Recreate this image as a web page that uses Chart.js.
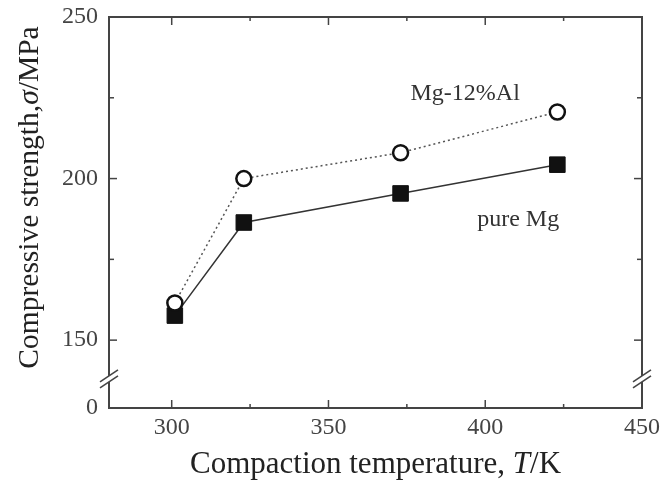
<!DOCTYPE html>
<html>
<head>
<meta charset="utf-8">
<script src="https://cdn.jsdelivr.net/npm/chart.js@4.4.0/dist/chart.umd.min.js"></script>
<style>html,body{margin:0;padding:0;background:#fff}</style>
</head>
<body>
<canvas id="grafico" width="660" height="488"></canvas>
<script>
// valores
var temps = [301, 323, 373, 423];
var mgAl = [161.5, 200, 208, 220.6];
var pureMg = [157.6, 186.4, 195.4, 204.3];
var xTicks = [300, 350, 400, 450];
var xMinor = [325, 375, 425];
var yTicks = [129, 150, 200, 250];
var yTickLabels = ['0', '150', '200', '250'];
var yMinor = [175, 225];
var yBreak = 138;

var fam = "'Liberation Serif', 'Times New Roman', serif";

function pts(ys) {
    return temps.map(function (t, i) { return { x: t, y: ys[i] }; });
}

function rich(ctx, parts, size) {
    var total = 0;
    parts.forEach(function (p) {
        ctx.font = (p[1] ? 'italic ' : '') + size + 'px ' + fam;
        p.w = ctx.measureText(p[0]).width;
        total += p.w;
    });
    var x = -total / 2;
    ctx.textAlign = 'left';
    ctx.textBaseline = 'alphabetic';
    parts.forEach(function (p) {
        ctx.font = (p[1] ? 'italic ' : '') + size + 'px ' + fam;
        ctx.fillText(p[0], x, 0);
        x += p.w;
    });
}

// marco, marcas hacia dentro, cortes del eje y textos
var marco = {
    id: 'marco',
    afterDraw: function (chart) {
        var ctx = chart.ctx, a = chart.chartArea;
        var xs = chart.scales.x, ys = chart.scales.y;
        function seg(x1, y1, x2, y2) {
            ctx.beginPath(); ctx.moveTo(x1, y1); ctx.lineTo(x2, y2); ctx.stroke();
        }
        ctx.save();
        ctx.strokeStyle = '#444';
        ctx.lineWidth = 2;
        ctx.strokeRect(a.left, a.top, a.right - a.left, a.bottom - a.top);
        ctx.lineWidth = 1.5;
        xTicks.forEach(function (v) {
            var p = xs.getPixelForValue(v);
            seg(p, a.bottom, p, a.bottom - 8);
            seg(p, a.top, p, a.top + 8);
        });
        xMinor.forEach(function (v) {
            var p = xs.getPixelForValue(v);
            seg(p, a.bottom, p, a.bottom - 4);
            seg(p, a.top, p, a.top + 4);
        });
        yTicks.slice(1).forEach(function (v) {
            var p = ys.getPixelForValue(v);
            seg(a.left, p, a.left + 8, p);
            seg(a.right, p, a.right - 8, p);
        });
        yMinor.forEach(function (v) {
            var p = ys.getPixelForValue(v);
            seg(a.left, p, a.left + 5, p);
            seg(a.right, p, a.right - 5, p);
        });
        var by = ys.getPixelForValue(yBreak);
        [a.left, a.right].forEach(function (x) {
            ctx.fillStyle = '#fff';
            ctx.fillRect(x - 2, by - 3, 4, 6);
            seg(x - 9, by + 3, x + 9, by - 9);
            seg(x - 9, by + 9, x + 9, by - 3);
        });

        ctx.fillStyle = '#333';
        ctx.font = '24px ' + fam;
        ctx.textAlign = 'center';
        ctx.textBaseline = 'alphabetic';
        ctx.fillText('Mg-12%Al', xs.getPixelForValue(393.6), ys.getPixelForValue(224.2));
        ctx.fillText('pure Mg', xs.getPixelForValue(410.5), ys.getPixelForValue(185.4));

        ctx.fillStyle = '#222';
        ctx.save();
        ctx.translate((a.left + a.right) / 2, 473);
        rich(ctx, [['Compaction temperature, ', false], ['T', true], ['/K', false]], 31);
        ctx.restore();
        ctx.save();
        ctx.translate(38, 197.5);
        ctx.rotate(-Math.PI / 2);
        rich(ctx, [['Compressive strength,', false], ['σ', true], ['/MPa', false]], 29.5);
        ctx.restore();
        ctx.restore();
    }
};

var ctx = document.getElementById('grafico').getContext('2d');
var grafico = new Chart(ctx, {
    type: 'scatter',
    data: {
        datasets: [{
            label: 'Mg-12%Al',
            data: pts(mgAl),
            showLine: true,
            borderColor: '#555',
            borderWidth: 1.5,
            borderDash: [2, 3],
            pointStyle: 'circle',
            pointRadius: 7.5,
            pointBorderWidth: 2.5,
            pointBorderColor: '#111',
            pointBackgroundColor: '#fff'
        }, {
            label: 'pure Mg',
            data: pts(pureMg),
            showLine: true,
            borderColor: '#333',
            borderWidth: 1.5,
            pointStyle: 'rect',
            pointRadius: 11,
            pointBorderWidth: 1,
            pointBorderColor: '#111',
            pointBackgroundColor: '#111'
        }]
    },
    options: {
        responsive: false,
        animation: false,
        layout: { padding: { top: 17, right: 18 } },
        plugins: { legend: { display: false }, tooltip: { enabled: false } },
        scales: {
            x: {
                type: 'linear',
                min: 280,
                max: 450,
                afterBuildTicks: function (s) { s.ticks = xTicks.map(function (v) { return { value: v }; }); },
                afterFit: function (s) { s.height = 80; s.paddingLeft = 0; s.paddingRight = 0; },
                grid: { display: false, drawTicks: false },
                border: { display: false },
                ticks: { font: { family: fam, size: 24 }, color: '#444', padding: 5, maxRotation: 0 }
            },
            y: {
                min: 129,
                max: 250,
                afterBuildTicks: function (s) { s.ticks = yTicks.map(function (v) { return { value: v }; }); },
                afterFit: function (s) { s.width = 109; s.paddingTop = 0; s.paddingBottom = 0; },
                grid: { display: false, drawTicks: false },
                border: { display: false },
                ticks: {
                    font: { family: fam, size: 24 }, color: '#444', padding: 11,
                    callback: function (v) { return yTickLabels[yTicks.indexOf(v)]; }
                }
            }
        }
    },
    plugins: [marco]
});
</script>
</body>
</html>
